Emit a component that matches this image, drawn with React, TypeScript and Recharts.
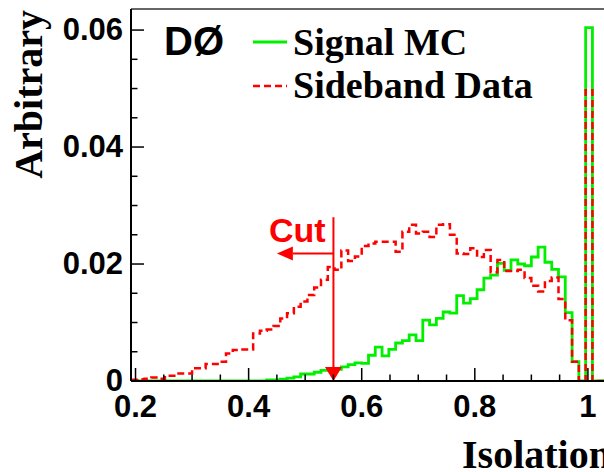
import React from 'react'
import { LineChart, Line, XAxis, YAxis, ReferenceLine } from 'recharts'

// histogram binning: bins of 0.012 starting at 0.192
const BIN_START = 0.192
const BIN_WIDTH = 0.012

const signalMC = [
  0, 0, 0, 0, 0, 0, 0, 0, 0, 0,
  0, 0, 0, 0, 0, 0, 0, 0, 0, 0,
  0.0002, 0.0002, 0.0003, 0.0005, 0.0007, 0.0012, 0.0012, 0.0015, 0.0018, 0.0018,
  0.002, 0.0024, 0.0028, 0.0031, 0.003, 0.0044, 0.0058, 0.0043, 0.0054, 0.0065,
  0.0069, 0.0079, 0.0069, 0.0104, 0.0096, 0.0107, 0.0118, 0.0116, 0.0146, 0.0133,
  0.0141, 0.0156, 0.0176, 0.0181, 0.0201, 0.0189, 0.0207, 0.02, 0.0197, 0.0212,
  0.0229, 0.0203, 0.0191, 0.0178, 0.0117, 0.0033, 0, 0.0604, 0, 0,
]

const sidebandData = [
  0.0002, 0.0003, 0.0004, 0.0006, 0.0004, 0.0009, 0.0009, 0.0013, 0.0013, 0.0022,
  0.0022, 0.0029, 0.0029, 0.0033, 0.0047, 0.0053, 0.0054, 0.0054, 0.0081, 0.0086,
  0.0088, 0.0094, 0.0107, 0.0116, 0.0127, 0.0136, 0.0147, 0.016, 0.0173, 0.0195,
  0.019, 0.0223, 0.0205, 0.0213, 0.0231, 0.0235, 0.0238, 0.0238, 0.0238, 0.0221,
  0.0255, 0.0267, 0.0252, 0.0255, 0.0246, 0.0267, 0.0268, 0.025, 0.0218, 0.0217,
  0.0227, 0.0212, 0.0224, 0.0186, 0.0207, 0.0188, 0.0188, 0.019, 0.0176, 0.0163,
  0.0153, 0.0171, 0.0177, 0.014, 0.0104, 0.0033, 0, 0.0497, 0, 0,
]

const xTicks = [0.2, 0.25, 0.3, 0.35, 0.4, 0.45, 0.5, 0.55, 0.6, 0.65, 0.7, 0.75, 0.8, 0.85, 0.9, 0.95, 1]
const yTicks = [0, 0.005, 0.01, 0.015, 0.02, 0.025, 0.03, 0.035, 0.04, 0.045, 0.05, 0.055, 0.06]

const X_DOMAIN = [0.192, 1.032]
const Y_MAX = 0.0636
const CUT = 0.55

const RED = '#ff0000'
const GREEN = '#00f000'
const SANS = '"Liberation Sans", Arial, Helvetica, sans-serif'
const SERIF = '"Liberation Serif", "Times New Roman", serif'

const data = signalMC.map((s, i) => ({
  x: +(BIN_START + i * BIN_WIDTH).toFixed(3),
  sig: s,
  bkg: sidebandData[i],
}))
data.push({
  x: +(BIN_START + signalMC.length * BIN_WIDTH).toFixed(3),
  sig: signalMC[signalMC.length - 1],
  bkg: sidebandData[sidebandData.length - 1],
})

const isMultiple = (v: number, step: number) => Math.abs(v / step - Math.round(v / step)) < 1e-6

const XTick = (props: any) => {
  const { x, y, payload } = props
  const v = payload.value
  const major = isMultiple(v, 0.2)
  return (
    <g>
      <line x1={x} x2={x} y1={y} y2={y - (major ? 13 : 6.5)} stroke="#000" strokeWidth={1.5} />
      {major && (
        <text x={x} y={y + 36} textAnchor="middle" fontFamily={SANS} fontWeight="bold" fontSize={31} fill="#000">
          {v === 1 ? '1' : String(v)}
        </text>
      )}
    </g>
  )
}

const YTick = (props: any) => {
  const { x, y, payload } = props
  const v = payload.value
  const major = isMultiple(v, 0.02)
  return (
    <g>
      <line x1={x} x2={x + (major ? 13 : 6.5)} y1={y} y2={y} stroke="#000" strokeWidth={1.5} />
      {major && (
        <text x={x - 8} y={y + 10} textAnchor="end" fontFamily={SANS} fontWeight="bold" fontSize={31} fill="#000">
          {v === 0 ? '0' : v.toFixed(2)}
        </text>
      )}
    </g>
  )
}

const arrow = (head: number, halfW: number) => (p: any) => {
  const { x1, y1, x2, y2 } = p
  const dx = x2 - x1
  const dy = y2 - y1
  const len = Math.hypot(dx, dy) || 1
  const ux = dx / len
  const uy = dy / len
  const bx = x2 - ux * head
  const by = y2 - uy * head
  return (
    <g>
      <line x1={x1} y1={y1} x2={bx} y2={by} stroke={RED} strokeWidth={2} />
      <polygon
        points={`${x2},${y2} ${bx - uy * halfW},${by + ux * halfW} ${bx + uy * halfW},${by - ux * halfW}`}
        fill={RED}
      />
    </g>
  )
}

export default function App() {
  return (
    <div style={{ position: 'absolute', left: 0, top: 0, width: 604, height: 472, overflow: 'hidden', background: '#fff' }}>
      <LineChart width={620} height={472} data={data} margin={{ top: 9, right: 14, left: 0, bottom: 0 }}>
        <XAxis
          dataKey="x"
          type="number"
          domain={X_DOMAIN}
          allowDataOverflow
          ticks={xTicks}
          interval={0}
          tick={XTick}
          tickLine={false}
          tickSize={0}
          tickMargin={0}
          height={91}
          axisLine={{ stroke: '#000', strokeWidth: 2 }}
        />
        <YAxis
          type="number"
          domain={[0, Y_MAX]}
          allowDataOverflow
          ticks={yTicks}
          interval={0}
          tick={YTick}
          tickLine={false}
          tickSize={0}
          tickMargin={0}
          width={131}
          axisLine={{ stroke: '#000', strokeWidth: 2 }}
        />
        <ReferenceLine y={Y_MAX} stroke="#333" strokeWidth={1.5} ifOverflow="visible" />
        <Line
          type="stepAfter"
          dataKey="sig"
          stroke={GREEN}
          strokeWidth={2.8}
          dot={false}
          isAnimationActive={false}
        />
        <Line
          type="stepAfter"
          dataKey="bkg"
          stroke={RED}
          strokeWidth={2.5}
          strokeDasharray="7 4"
          dot={false}
          isAnimationActive={false}
        />
        <ReferenceLine
          segment={[{ x: CUT, y: 0.028 }, { x: CUT, y: 0 }]}
          ifOverflow="visible"
          shape={arrow(14, 8.5)}
        />
        <ReferenceLine
          segment={[{ x: CUT, y: 0.0218 }, { x: 0.45, y: 0.0218 }]}
          ifOverflow="visible"
          shape={arrow(16, 7)}
        />
      </LineChart>
      <svg width={604} height={472} style={{ position: 'absolute', left: 0, top: 0, pointerEvents: 'none' }}>
        <text x={42} y={10} transform="rotate(-90 42 10)" textAnchor="end" fontFamily={SERIF} fontWeight="bold" fontSize={40} fill="#000">
          Arbitrary
        </text>
        <text x={462} y={468} fontFamily={SERIF} fontWeight="bold" fontSize={40} fill="#000">
          Isolation
        </text>
        <text x={164} y={55} fontFamily={SANS} fontWeight="bold" fontSize={40} fill="#000">
          DØ
        </text>
        <line x1={253} x2={287} y1={42} y2={42} stroke={GREEN} strokeWidth={2.8} />
        <text x={293} y={55} fontFamily={SERIF} fontWeight="bold" fontSize={38} fill="#000">
          Signal MC
        </text>
        <line x1={253} x2={287} y1={86} y2={86} stroke={RED} strokeWidth={2.5} strokeDasharray="7 4" />
        <text x={293} y={98} fontFamily={SERIF} fontWeight="bold" fontSize={38} fill="#000">
          Sideband Data
        </text>
        <text x={269} y={242} fontFamily={SANS} fontWeight="bold" fontSize={34} fill={RED}>
          Cut
        </text>
      </svg>
    </div>
  )
}
